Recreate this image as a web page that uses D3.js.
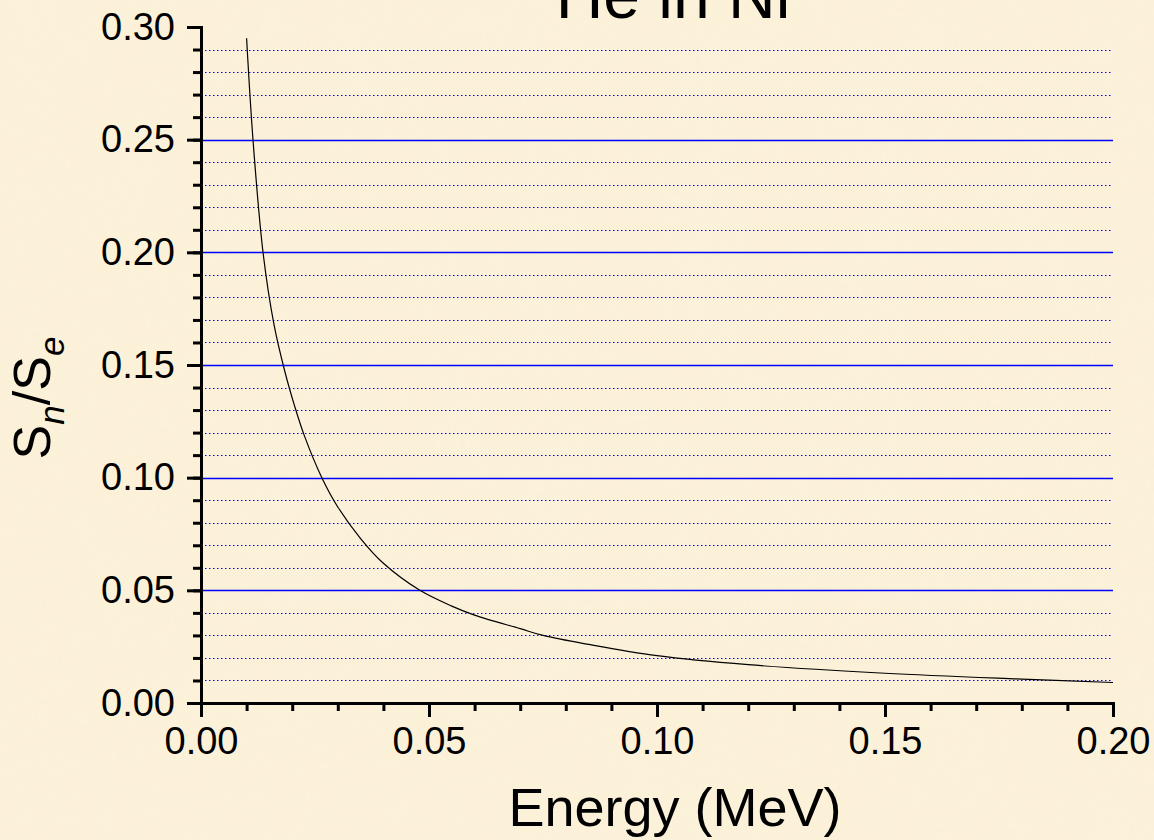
<!DOCTYPE html>
<html>
<head>
<meta charset="utf-8">
<script src="https://cdn.jsdelivr.net/npm/d3@7"></script>
<style>
body { margin:0; padding:0; overflow:hidden; background:#fbf0d6; }
text { font-family: "Liberation Sans", Arial, sans-serif; fill:#000; }
</style>
</head>
<body>
<svg id="chart"></svg>
<script>
// energy (MeV) and Sn/Se
var energy = [0.010, 0.0114, 0.0136, 0.016, 0.0184, 0.0205, 0.0226, 0.0265, 0.030, 0.035, 0.040,
              0.048, 0.055, 0.060, 0.070, 0.075, 0.085, 0.100, 0.120, 0.150, 0.180, 0.200]
var ratio = [0.295, 0.250, 0.200, 0.168, 0.147, 0.132, 0.119, 0.100, 0.087, 0.073, 0.062,
             0.050, 0.043, 0.039, 0.033, 0.030, 0.026, 0.0210, 0.0170, 0.0132, 0.0106, 0.0091]
var xTicks = [0.00, 0.05, 0.10, 0.15, 0.20]
var yTicks = [0.00, 0.05, 0.10, 0.15, 0.20, 0.25, 0.30]

var screen = {width:1154, height:840}
var margins = {top:27, bottom:137, left:201, right:41}
var graph = {
    width:screen.width-margins.left-margins.right,
    height:screen.height-margins.top-margins.bottom
}

var target = d3.select("#chart")
    .attr("width", screen.width)
    .attr("height", screen.height)

// paper background with a faint texture
var defs = target.append("defs")
var filt = defs.append("filter").attr("id","paper")
    .attr("x",0).attr("y",0).attr("width","100%").attr("height","100%")
filt.append("feTurbulence").attr("type","fractalNoise")
    .attr("baseFrequency","0.012").attr("numOctaves",3).attr("seed",4)
filt.append("feColorMatrix").attr("type","matrix")
    .attr("values","0 0 0 0 0.93  0 0 0 0 0.84  0 0 0 0 0.66  0 0 0 0.35 0")
target.append("rect").attr("width",screen.width).attr("height",screen.height).attr("fill","#fcf1d9")
target.append("rect").attr("width",screen.width).attr("height",screen.height)
    .attr("filter","url(#paper)").attr("opacity",0.5)

var xScale = d3.scaleLinear().domain([0,0.2]).range([0,graph.width])
var yScale = d3.scaleLinear().domain([0,0.3]).range([graph.height,0])

var g = target.append("g")
    .attr("transform","translate("+margins.left+","+margins.top+")")

// grid lines: every 0.01, dotted; every 0.05, solid
var minorY = d3.range(1,30).map(function(i){return i/100})
    .filter(function(v){return Math.round(v*100)%5!=0})
g.append("g").selectAll("line")
    .data(minorY).enter().append("line")
    .attr("x1",0).attr("x2",graph.width)
    .attr("y1",function(d){return Math.round(yScale(d))+0.5})
    .attr("y2",function(d){return Math.round(yScale(d))+0.5})
    .attr("stroke","#0000ff").attr("stroke-width",1)
    .attr("stroke-dasharray","1.5,2.5")
g.append("g").selectAll("line")
    .data(yTicks.filter(function(v){return v>0 && v<0.3})).enter().append("line")
    .attr("x1",0).attr("x2",graph.width)
    .attr("y1",function(d){return Math.round(yScale(d))+0.5})
    .attr("y2",function(d){return Math.round(yScale(d))+0.5})
    .attr("stroke","#0000ff").attr("stroke-width",1.3)

// curve
var points = energy.map(function(e,i){return {e:e, r:ratio[i]}})
var lineGenerator = d3.line()
    .x(function(p){return xScale(p.e)})
    .y(function(p){return yScale(p.r)})
    .curve(d3.curveCatmullRom.alpha(0.5))
g.append("path").datum(points)
    .attr("d",lineGenerator)
    .attr("fill","none").attr("stroke","#000").attr("stroke-width",1.2)

// axes
var xMinor = d3.range(0,21).map(function(i){return i/100})
var yMinor = d3.range(0,31).map(function(i){return i/100})
var axes = g.append("g")
axes.append("g").attr("transform","translate(0,"+graph.height+")")
    .call(d3.axisBottom(xScale).tickValues(xMinor).tickSize(8).tickFormat(""))
axes.append("g").attr("transform","translate(0,"+graph.height+")")
    .call(d3.axisBottom(xScale).tickValues(xTicks).tickSize(14).tickPadding(10)
        .tickFormat(d3.format(".2f")))
axes.append("g")
    .call(d3.axisLeft(yScale).tickValues(yMinor).tickSize(8).tickFormat(""))
axes.append("g")
    .call(d3.axisLeft(yScale).tickValues(yTicks).tickSize(14).tickPadding(12)
        .tickFormat(d3.format(".2f")))
axes.selectAll(".domain").attr("stroke","#000").attr("stroke-width",3)
axes.selectAll(".tick line").attr("stroke","#000").attr("stroke-width",3)
axes.selectAll(".tick text").attr("font-size",38)
    .attr("font-family","'Liberation Sans', Arial, sans-serif")

// labels
var labels = target.append("g")
labels.append("text")
    .text("He in Ni")
    .attr("text-anchor","middle")
    .attr("x",673).attr("y",18)
    .attr("font-size",66)
labels.append("text")
    .text("Energy (MeV)")
    .attr("text-anchor","middle")
    .attr("x",margins.left+graph.width/2+18).attr("y",826)
    .attr("font-size",54)
var yl = labels.append("g")
    .attr("transform","translate(50,398)")
    .append("text")
    .attr("text-anchor","middle")
    .attr("transform","rotate(270)")
    .attr("font-size",52)
yl.append("tspan").text("S")
yl.append("tspan").text("n").attr("font-size",35).attr("dy",14)
    .attr("font-style","italic")
yl.append("tspan").text("/S").attr("dy",-14)
yl.append("tspan").text("e").attr("font-size",35).attr("dy",14)
    .attr("font-style","italic")
</script>
</body>
</html>
